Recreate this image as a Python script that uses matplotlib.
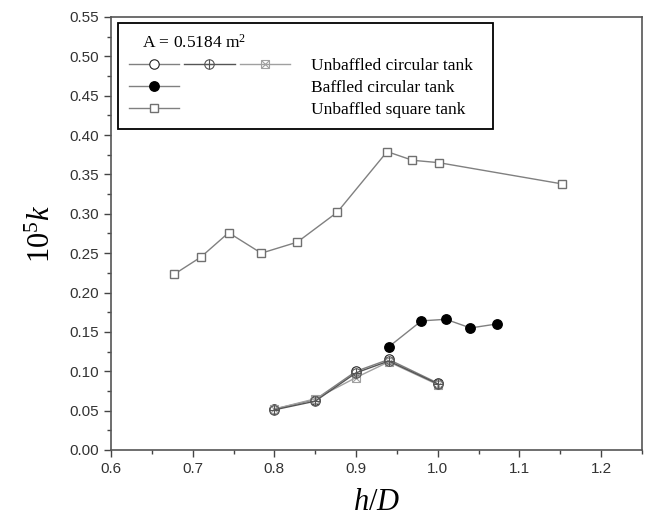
import matplotlib
matplotlib.use("Agg")
import matplotlib.pyplot as plt
from matplotlib.lines import Line2D
from matplotlib.legend_handler import HandlerTuple

plt.rcParams['mathtext.fontset'] = 'custom'
plt.rcParams['mathtext.rm'] = 'Liberation Serif'
plt.rcParams['mathtext.it'] = 'Liberation Serif:italic'

# unbaffled circular tank (three runs)
hd_unb = [0.80, 0.85, 0.90, 0.94, 1.00]
k_unb_1 = [0.052, 0.064, 0.100, 0.115, 0.085]
k_unb_2 = [0.051, 0.062, 0.098, 0.113, 0.084]
k_unb_3 = [0.052, 0.065, 0.092, 0.112, 0.083]

# baffled circular tank
hd_baf = [0.94, 0.98, 1.01, 1.04, 1.072]
k_baf = [0.131, 0.164, 0.166, 0.155, 0.160]

# unbaffled square tank
hd_sq = [0.677, 0.710, 0.744, 0.784, 0.828, 0.877, 0.938, 0.969, 1.001, 1.152]
k_sq = [0.223, 0.245, 0.276, 0.250, 0.264, 0.302, 0.379, 0.368, 0.365, 0.338]


class Row(tuple):
    """legend handle: several markers side by side"""
    pass


fig = plt.figure(figsize=(6.48, 5.21), dpi=100)
ax = fig.add_axes([0.1713, 0.1363, 0.8194, 0.8311])

ms = 6.8
lc = '#808080'

l1, = ax.plot(hd_unb, k_unb_1, color=lc, lw=1, marker='o', ms=ms,
              mfc='white', mec='#222222', mew=0.8)
l3a, = ax.plot(hd_unb, k_unb_3, color='#a0a0a0', lw=1, marker='s', ms=ms * 0.85,
               mfc='none', mec='#a0a0a0', mew=0.8)
l3b, = ax.plot(hd_unb, k_unb_3, ls='none', marker='x', ms=ms * 0.85,
               mec='#a0a0a0', mew=0.8)
l2a, = ax.plot(hd_unb, k_unb_2, color='#555555', lw=1, marker='o', ms=ms,
               mfc='none', mec='#555555', mew=0.8)
l2b, = ax.plot(hd_unb, k_unb_2, ls='none', marker='+', ms=ms,
               mec='#555555', mew=0.8)

lb, = ax.plot(hd_baf, k_baf, color=lc, lw=1, marker='o', ms=ms,
              mfc='black', mec='black')
ls_, = ax.plot(hd_sq, k_sq, color=lc, lw=1, marker='s', ms=ms * 0.95,
               mfc='white', mec='#707070', mew=1)

ax.set_xlim(0.6, 1.25)
ax.set_ylim(0.0, 0.55)
ax.set_xticks([0.6, 0.7, 0.8, 0.9, 1.0, 1.1, 1.2])
ax.set_xticks([0.65, 0.75, 0.85, 0.95, 1.05, 1.15, 1.25], minor=True)
ax.set_yticks([i * 0.05 for i in range(12)])
ax.set_yticks([0.025 + i * 0.05 for i in range(11)], minor=True)
ax.xaxis.set_major_formatter(plt.FormatStrFormatter('%.1f'))
ax.yaxis.set_major_formatter(plt.FormatStrFormatter('%.2f'))

for lab in ax.get_xticklabels() + ax.get_yticklabels():
    lab.set_fontfamily('Liberation Sans')
    lab.set_fontsize(11)
    lab.set_color('#333333')
ax.tick_params(which='major', direction='out', length=5, width=1, color='#444444')
ax.tick_params(which='minor', direction='out', length=3, width=1, color='#444444')
for sp in ax.spines.values():
    sp.set_color('#555555')
    sp.set_linewidth(1.2)

ax.set_xlabel(r'$h/D$', fontsize=22, labelpad=8)
ax.set_ylabel(r'$\mathrm{10}^{5}k$', fontsize=22, labelpad=10)

blank = Line2D([], [], ls='none')
handles = [Row((l1, (l2a, l2b), (l3a, l3b))), Row((lb, blank, blank)), Row((ls_, blank, blank))]
labels = ['Unbaffled circular tank', 'Baffled circular tank', 'Unbaffled square tank']
leg = ax.legend(handles, labels,
                handler_map={Row: HandlerTuple(ndivide=None, pad=0.3), tuple: HandlerTuple()},
                loc='upper left', bbox_to_anchor=(0.013, 0.0, 0.706, 0.987),
                mode='expand', title='   A = 0.5184 m$^{2}$', alignment='left',
                prop={'family': 'Liberation Serif', 'size': 12.5},
                title_fontproperties={'family': 'Liberation Serif', 'size': 12.5},
                handlelength=9.3, handletextpad=1.2, labelspacing=0.36,
                borderaxespad=0, borderpad=0.62, fancybox=False, framealpha=1,
                edgecolor='black')
leg.get_frame().set_linewidth(1.3)

fig.savefig('out.png', dpi=100)
